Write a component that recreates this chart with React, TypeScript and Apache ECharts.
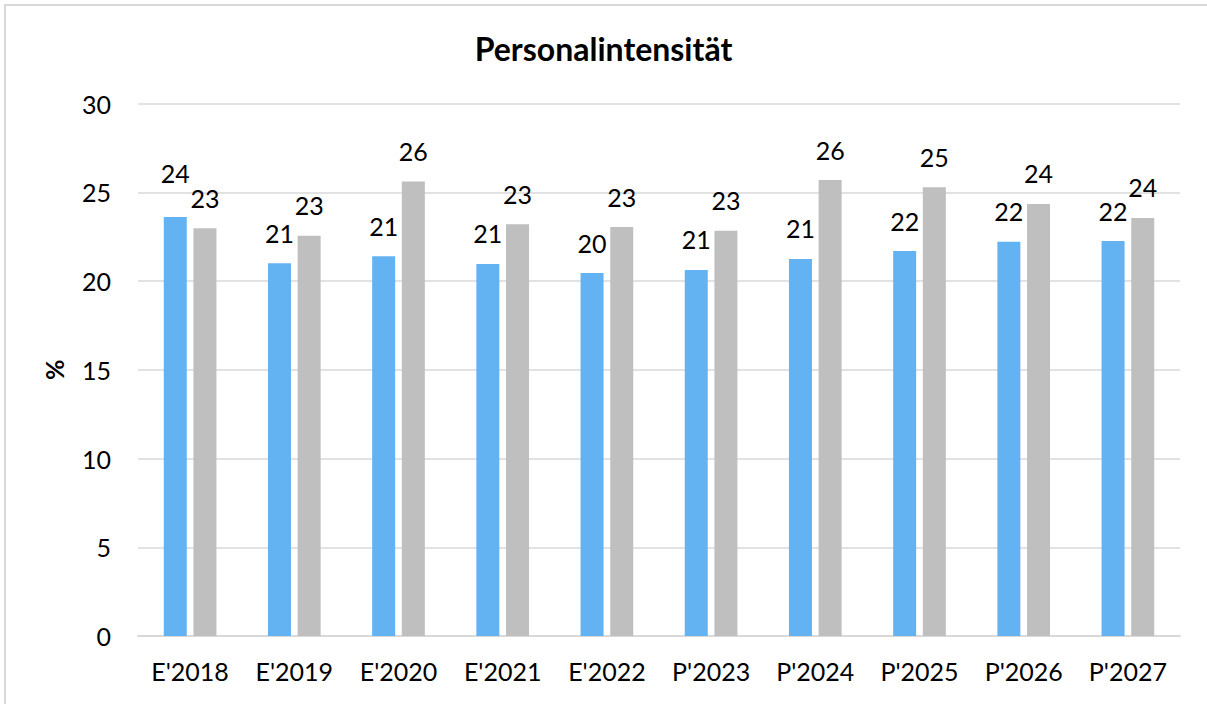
import React, { useEffect, useRef } from "react";
import * as echarts from "echarts";

const categories = ["E'2018", "E'2019", "E'2020", "E'2021", "E'2022", "P'2023", "P'2024", "P'2025", "P'2026", "P'2027"];
const seriesA = [23.6, 21.0, 21.4, 20.96, 20.45, 20.62, 21.24, 21.69, 22.21, 22.25];
const seriesB = [22.97, 22.55, 25.6, 23.2, 23.04, 22.83, 25.69, 25.28, 24.34, 23.55];
const yTicks = { min: 0, max: 30, interval: 5 };

const FONT = "Lato";

export default function App() {
  const ref = useRef<HTMLDivElement>(null);
  useEffect(() => {
    if (!ref.current) return;
    const chart = echarts.init(ref.current, undefined, { renderer: "svg" });
    const labelBase = {
      show: true,
      position: "top",
      distance: 18,
      color: "#000",
      fontFamily: FONT,
      fontSize: 25,
      formatter: (p: any) => String(Math.round(p.value)),
    };
    chart.setOption({
      animation: false,
      backgroundColor: "#fff",
      textStyle: { fontFamily: FONT },
      title: {
        text: "Personalintensität",
        left: "center",
        top: 27,
        textStyle: { fontFamily: FONT, fontWeight: "bold", fontSize: 32, color: "#000" },
      },
      graphic: [
        {
          type: "polyline",
          shape: { points: [[5, 720], [5, 5], [1220, 5]] },
          style: { stroke: "#d9d9d9", lineWidth: 2, fill: "none" },
        },
      ],
      grid: { left: 138, right: 27, top: 103.5, bottom: 68, containLabel: false },
      xAxis: {
        type: "category",
        data: categories,
        axisLine: { lineStyle: { color: "#d9d9d9", width: 2 } },
        axisTick: { show: false },
        axisLabel: { color: "#000", fontFamily: FONT, fontSize: 25, margin: 22 },
      },
      yAxis: {
        type: "value",
        min: yTicks.min,
        max: yTicks.max,
        interval: yTicks.interval,
        name: "%",
        nameLocation: "middle",
        nameGap: 72,
        nameRotate: 90,
        nameTextStyle: { color: "#000", fontFamily: FONT, fontWeight: "bold", fontSize: 25 },
        axisLine: { show: false },
        axisTick: { show: false },
        splitLine: { lineStyle: { color: "#d9d9d9", width: 1.5 } },
        axisLabel: { color: "#000", fontFamily: FONT, fontSize: 25, margin: 27 },
      },
      series: [
        {
          type: "bar",
          data: seriesA.map((v, i) =>
            i === 0 ? { value: v, label: { distance: 32 } } : v
          ),
          barWidth: 23,
          barGap: "29%",
          itemStyle: { color: "#63b3f3" },
          label: labelBase,
        },
        {
          type: "bar",
          data: seriesB,
          barWidth: 23,
          itemStyle: { color: "#bfbfbf" },
          label: labelBase,
        },
      ],
    });
    return () => chart.dispose();
  }, []);
  return (
    <div
      ref={ref}
      style={{ position: "absolute", left: 0, top: 0, width: 1207, height: 704 }}
    />
  );
}
